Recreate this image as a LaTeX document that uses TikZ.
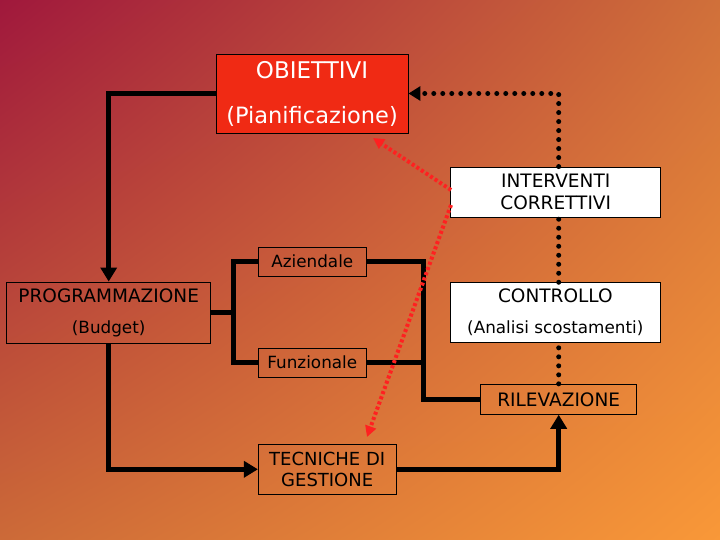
\documentclass[tikz,border=0pt]{standalone}
\usepackage{fontspec}
\setmainfont{DejaVu Sans}
\usetikzlibrary{arrows.meta,shadings}
\definecolor{bgUL}{HTML}{A0183C}
\definecolor{bgUR}{HTML}{D0703A}
\definecolor{bgLL}{HTML}{CC6A38}
\definecolor{bgLR}{HTML}{F99838}
\definecolor{objred}{HTML}{F02A14}
\definecolor{redline}{HTML}{FF2020}
\newcommand{\capsf}{\fontsize{18.5}{31}\selectfont}
\newcommand{\lowf}{\fontsize{16.8}{31}\selectfont}
\tikzset{
  box/.style={draw=black, line width=0.9pt, inner sep=0pt, align=center, text=black},
  conn/.style={line width=5pt, black},
  bigtip/.style={-{Triangle[length=14pt,width=16pt]}},
  blackdots/.style={line width=5pt, black, line cap=round, dash pattern=on 0pt off 9pt},
  reddots/.style={line width=4pt, redline, dash pattern=on 3pt off 2.5pt, -{Triangle[length=11pt,width=11pt]}}
}
\begin{document}
\begin{tikzpicture}[x=1pt,y=-1pt]
\shade[upper left=bgUL, upper right=bgUR, lower left=bgLL, lower right=bgLR] (0,0) rectangle (720,540);
\useasboundingbox (0,0) rectangle (720,540);

\node[box, fill=objred, text=white, minimum width=192pt, minimum height=79pt, font=\fontsize{22.5}{45}\selectfont] (obj) at (312,93.5) {{\fontsize{23}{45}\selectfont OBIETTIVI}\\(Pianificazione)};
\node[box, fill=white, minimum width=210pt, minimum height=50pt, font=\fontsize{18.5}{22}\selectfont] (int) at (555.7,192) {INTERVENTI\\CORRETTIVI};
\node[box, font=\lowf, minimum width=108.7pt, minimum height=29pt] (azi) at (312.3,261.5) {Aziendale};
\node[box, font=\capsf, minimum width=204pt, minimum height=61pt] (prog) at (108.7,312.5) {PROGRAMMAZIONE\\{\lowf (Budget)}};
\node[box, font=\lowf, minimum width=108.7pt, minimum height=29pt] (funz) at (312.3,362.5) {Funzionale};
\node[box, font=\capsf, fill=white, minimum width=209.3pt, minimum height=60pt] (ctrl) at (555.3,312.7) {CONTROLLO\\{\lowf (Analisi scostamenti)}};
\node[box, font=\capsf, minimum width=156pt, minimum height=30pt] (ril) at (558.7,399.3) {RILEVAZIONE};
\node[box, minimum width=137.7pt, minimum height=50pt, font=\fontsize{18}{21}\selectfont] (tec) at (327.2,469.3) {TECNICHE DI\\GESTIONE};

\coordinate (bl) at (233,312.5);
\coordinate (br) at (423,330);
\coordinate (r1) at (373,138);
\coordinate (r1s) at (451,190);
\coordinate (r2) at (367,437);
\coordinate (r2s) at (451,205);

% solid connectors
\draw[conn, bigtip] (obj.west) -| (prog.north);
\draw[conn, bigtip] (prog.south) |- (tec.west);
\draw[conn, bigtip] (tec.east) -| (ril.south);
\draw[conn] (prog.east) -- (bl);
\draw[conn, line join=miter] (azi.west) -| (bl) |- (funz.west);
\draw[conn, line join=miter] (azi.east) -| (br) |- (ril.west);
\draw[conn] (funz.east) -- (funz.east -| br);

% dotted black
\draw[blackdots] (ril.north) -- (ril.north |- ctrl.south);
\draw[blackdots] (ril.north |- ctrl.north) -- (ril.north |- int.south);
\draw[blackdots, -{Triangle[length=12pt,width=14pt]}] (ril.north |- int.north) |- (obj.east);

% red dotted
\draw[reddots] (r1s) -- (r1);
\draw[reddots] (r2s) -- (r2);
\end{tikzpicture}
\end{document}
